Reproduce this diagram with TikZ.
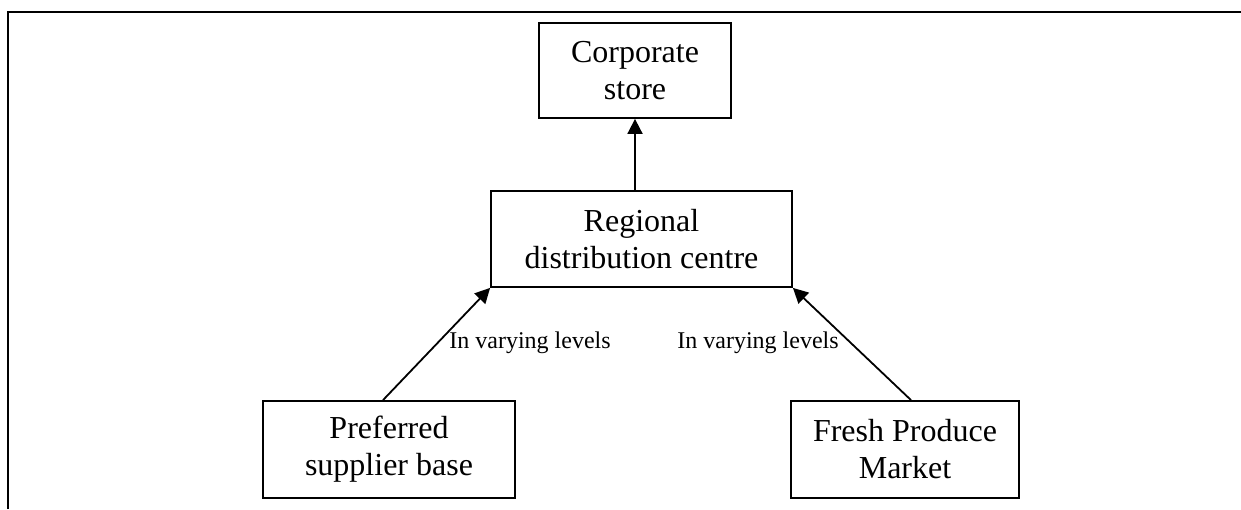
\documentclass[tikz,border=0pt]{standalone}
\usepackage{fontspec}
\setmainfont{Liberation Serif}
\usetikzlibrary{arrows.meta,calc}
\tikzset{
  boxnode/.style={draw, line width=1.8pt, inner sep=0pt, align=center,
    font=\fontsize{32}{37}\selectfont},
  conn/.style={line width=1.8pt, -{Triangle[length=15pt,width=15pt]}},
  lbl/.style={font=\fontsize{24}{28}\selectfont, inner sep=0pt},
  frame/.style={line width=2.5pt}
}
\begin{document}
\begin{tikzpicture}[x=1pt,y=-1pt]
\useasboundingbox (0,0) rectangle (1241,509);
\coordinate (fa) at (8,509);
\coordinate (fb) at (8,12);
\coordinate (fc) at (1241,12);
\draw[frame] (fa) -- (fb) -- (fc);

\node[boxnode, minimum width=192pt, minimum height=95pt] (corp) at (635,70.5) {Corporate\\store};
\node[boxnode, minimum width=301pt, minimum height=96pt] (rdc) at (641.5,239) {Regional\\distribution centre};
\node[boxnode, minimum width=252pt, minimum height=97pt] (pref) at (389,449.5) {Preferred\\supplier base};
\node[boxnode, minimum width=228pt, minimum height=97pt] (fresh) at (905,449.5) {Fresh Produce\\Market};

\draw[conn] (rdc.north -| corp.south) -- (corp.south);
\draw[conn] ([xshift=-6pt]pref.north) -- (rdc.south west);
\draw[conn] ([xshift=6pt]fresh.north) -- (rdc.south east);

\node[lbl] (l1) at (530,343) {In varying levels};
\node[lbl] (l2) at (758,343) {In varying levels};
\end{tikzpicture}
\end{document}
